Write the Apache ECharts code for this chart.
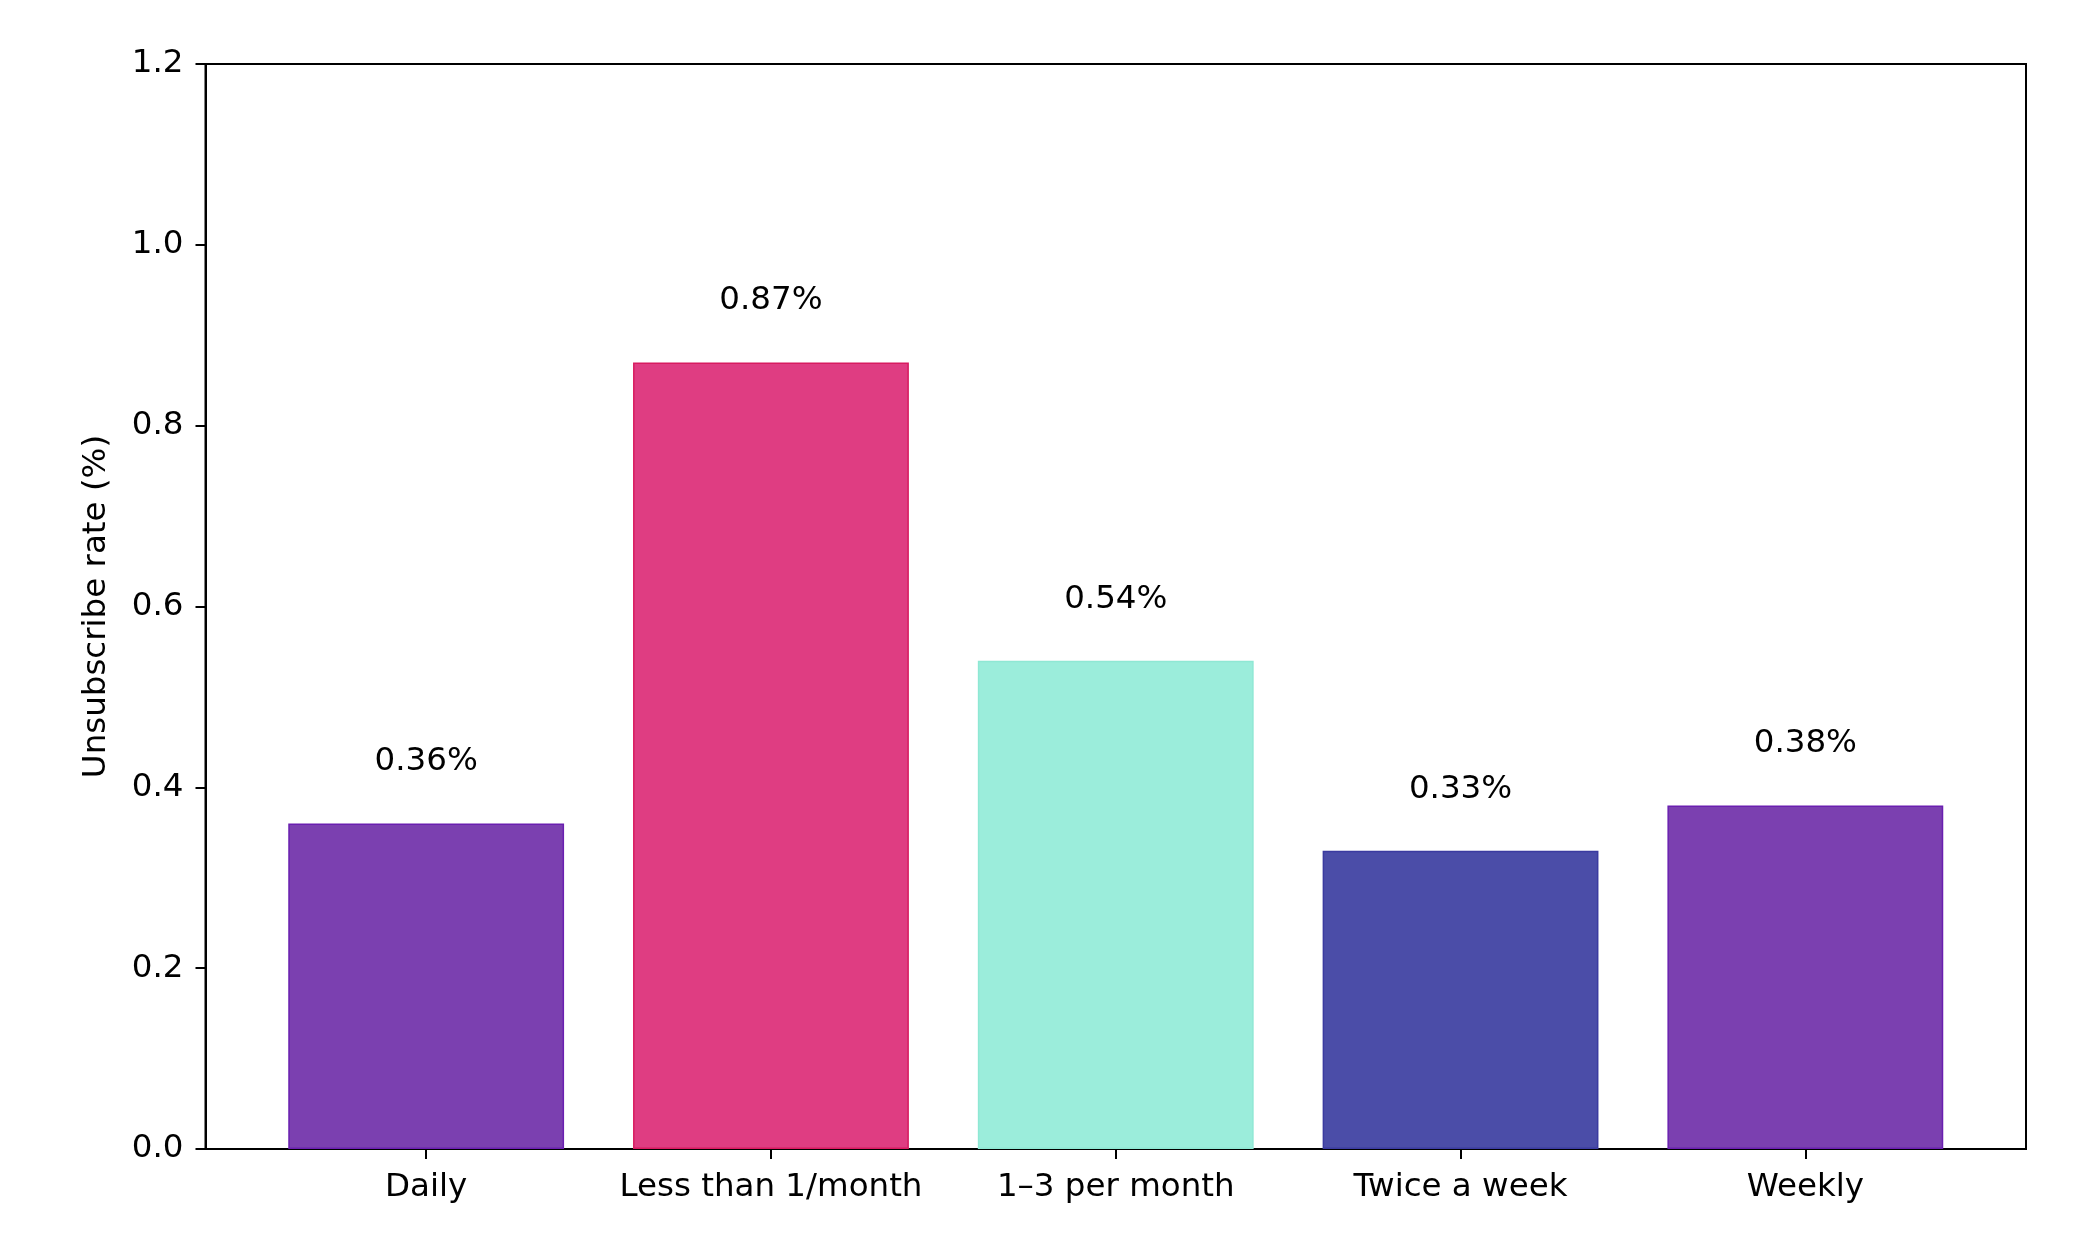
<!DOCTYPE html>
<html>
<head>
<meta charset="utf-8">
<script src="https://cdn.jsdelivr.net/npm/echarts@6/dist/echarts.min.js"></script>
<style>
html,body{margin:0;padding:0;background:#fff;}
#c{width:2094px;height:1250px;}
</style>
</head>
<body>
<div id="c"></div>
<script>
const categories = ['Daily', 'Less than 1/month', '1\u20133 per month', 'Twice a week', 'Weekly'];
const rates = [0.36, 0.87, 0.54, 0.33, 0.38];
const barColors = ['#7B40B0', '#DF3D82', '#9BEDDB', '#4B4DA8', '#7B40B0'];
const edgeColors = ['#6A1FB0', '#D81B60', '#8FE8D4', '#3B3BA0', '#6A1FB0'];
const yTicks = [0, 0.2, 0.4, 0.6, 0.8, 1.0, 1.2];
const yLabel = 'Unsubscribe rate (%)';

const FONT = 'DejaVu Sans';
const FS = 32.5;
const chart = echarts.init(document.getElementById('c'), null, {renderer: 'canvas'});

// matplotlib-like x margins: data spans [-0.4, 4.4], 5% margin each side
const gLeft = 205.5, gRight = 68, gTop = 64, gBottom = 101;
const plotW = 2094 - gLeft - gRight;
const span = (categories.length - 1) + 0.8;
const xmin = -0.4 - 0.05 * span, xmax = (categories.length - 1) + 0.4 + 0.05 * span;
const unit = plotW / (xmax - xmin);
const innerLeft = gLeft + (-0.5 - xmin) * unit;
const innerRight = gRight + (xmax - (categories.length - 0.5)) * unit;

chart.setOption({
  backgroundColor: '#ffffff',
  animation: false,
  grid: [
    {left: gLeft, right: gRight, top: gTop, bottom: gBottom, show: true, borderColor: '#000', borderWidth: 2, backgroundColor: 'transparent', containLabel: false},
    {left: innerLeft, right: innerRight, top: gTop, bottom: gBottom, containLabel: false}
  ],
  xAxis: [
    {gridIndex: 0, type: 'value', min: 0, max: 1, show: false},
    {gridIndex: 1, type: 'category', data: categories, boundaryGap: true,
     axisLine: {show: false},
     axisTick: {show: true, alignWithLabel: true, length: 10, lineStyle: {color: '#000', width: 2}},
     axisLabel: {color: '#000', fontFamily: FONT, fontSize: FS, margin: 22, interval: 0},
     splitLine: {show: false}}
  ],
  yAxis: [
    {gridIndex: 0, type: 'value', min: yTicks[0], max: yTicks[yTicks.length - 1], interval: 0.2,
     axisLine: {show: true, lineStyle: {color: '#000', width: 2}},
     axisTick: {show: true, length: 10, lineStyle: {color: '#000', width: 2}},
     axisLabel: {color: '#000', fontFamily: FONT, fontSize: FS, margin: 22, formatter: v => v.toFixed(1)},
     splitLine: {show: false},
     name: yLabel, nameLocation: 'middle', nameGap: 92,
     nameTextStyle: {color: '#000', fontFamily: FONT, fontSize: FS}},
    {gridIndex: 1, type: 'value', min: yTicks[0], max: yTicks[yTicks.length - 1], show: false}
  ],
  series: [{
    type: 'bar',
    xAxisIndex: 1, yAxisIndex: 1,
    barWidth: '80%',
    data: rates.map((v, i) => ({value: v, itemStyle: {color: barColors[i], borderColor: edgeColors[i], borderWidth: 1.5}})),
    label: {show: true, position: 'top', distance: 45, color: '#000', fontFamily: FONT, fontSize: FS,
            formatter: p => p.value.toFixed(2) + '%'}
  }]
});
</script>
</body>
</html>
